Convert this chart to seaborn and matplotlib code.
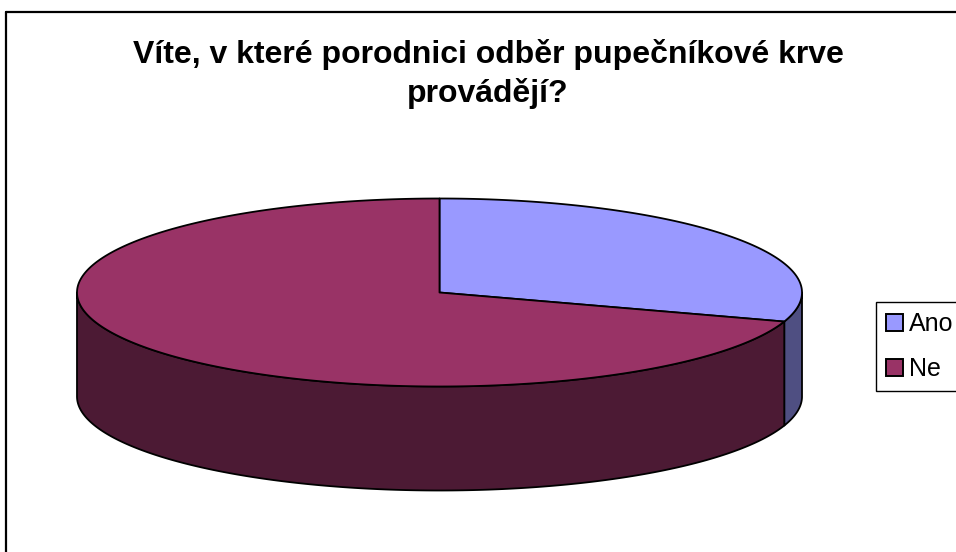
import numpy as np
import matplotlib
matplotlib.use("Agg")
import matplotlib.pyplot as plt
import seaborn as sns
from matplotlib.patches import Polygon, Patch
from matplotlib.lines import Line2D

# ---- data ----
categories = ["Ano", "Ne"]
values = [30, 70]
top_colors = ["#9999FF", "#993366"]
side_colors = ["#4F4F82", "#4C1A34"]
title = "Víte, v které porodnici odběr pupečníkové krve\nprovádějí?"

sns.set_theme(style="white")
plt.rcParams['font.family'] = ['Liberation Sans', 'DejaVu Sans']
plt.rcParams['text.color'] = 'black'

W, H = 956, 552
fig = plt.figure(figsize=(W / 100, H / 100), dpi=100)
ax = fig.add_axes([0, 0, 1, 1])
ax.set_xlim(0, W)
ax.set_ylim(H, 0)
ax.axis("off")

# geometry (pixel layout)
cx, cy = 439.5, 292.5
a, b = 362.5, 94.0
depth = 104.0

def pt(t, dy=0.0):
    return cx + a * np.cos(t), cy - b * np.sin(t) + dy

# angles: start at 12 o'clock, go clockwise
fracs = np.array(values, dtype=float) / np.sum(values)
starts = []
ang = 90.0
for f in fracs:
    end = ang - 360 * f
    starts.append((end, ang))  # counterclockwise range [end, ang]
    ang = end

def norm_range(lo, hi):
    lo_m = lo % 360
    span = hi - lo
    hi_m = lo_m + span
    if hi_m <= 360:
        return [(lo_m, hi_m)]
    return [(lo_m, 360), (0, hi_m - 360)]

# sides (visible front half: 180..360 degrees)
for (lo, hi), sc in zip(starts, side_colors):
    for r0, r1 in norm_range(lo, hi):
        s0, s1 = max(r0, 180), min(r1, 360)
        if s1 <= s0:
            continue
        ts = np.radians(np.linspace(s0, s1, 200))
        xt, yt = pt(ts)
        xb, yb = pt(ts[::-1], depth)
        poly = np.column_stack([np.concatenate([xt, xb]), np.concatenate([yt, yb])])
        ax.add_patch(Polygon(poly, closed=True, facecolor=sc, edgecolor="black",
                             linewidth=1.3, joinstyle="round"))

# top faces
for (lo, hi), tc in zip(starts, top_colors):
    ts = np.radians(np.linspace(lo, hi, 400))
    xt, yt = pt(ts)
    poly = np.column_stack([np.concatenate([[cx], xt]), np.concatenate([[cy], yt])])
    ax.add_patch(Polygon(poly, closed=True, facecolor=tc, edgecolor="black",
                         linewidth=1.3, joinstyle="round"))

# title
ax.text(488, 74, title, ha="center", va="center", fontsize=23, fontweight="bold",
        linespacing=1.3, color="black")

# outer chart border (cropped at right/bottom)
ax.add_line(Line2D([6, 6], [12, H + 5], color="black", lw=1.6))
ax.add_line(Line2D([6, W + 5], [12, 12], color="black", lw=1.6))

# legend
handles = [Patch(facecolor=c, edgecolor="black", linewidth=1.4) for c in top_colors]
leg = fig.legend(handles, categories, loc="upper left",
                 bbox_to_anchor=(876 / W, 1 - 302 / H), borderaxespad=0,
                 fontsize=18, frameon=True, fancybox=False, shadow=False,
                 handlelength=0.68, handleheight=0.68, handletextpad=0.25,
                 labelspacing=0.85, borderpad=0.4)
leg.get_frame().set_edgecolor("black")
leg.get_frame().set_linewidth(1.0)
leg.get_frame().set_alpha(1)
for t in leg.get_texts():
    t.set_color("black")

fig.savefig("out.png", dpi=100, facecolor="white")
